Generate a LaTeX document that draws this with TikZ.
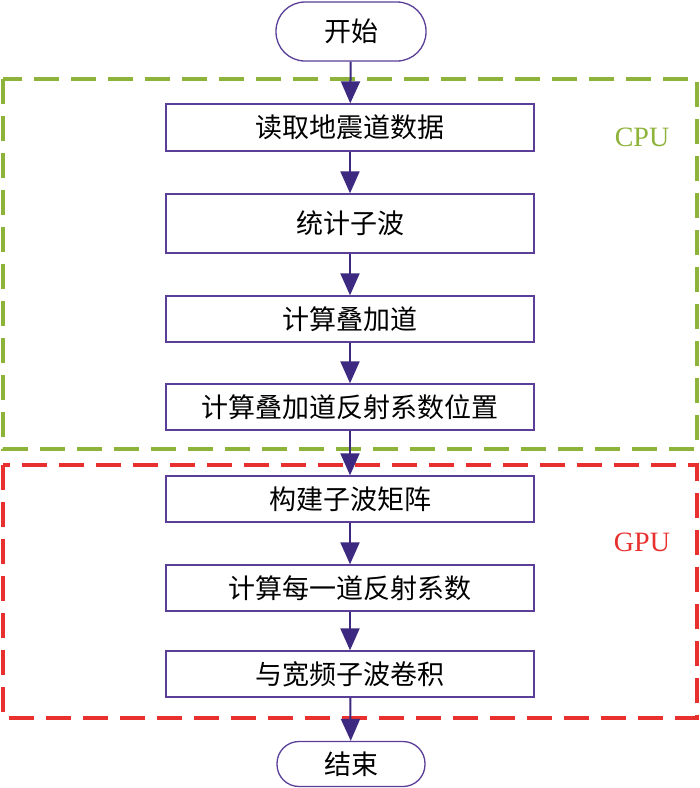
\documentclass[tikz,border=0pt]{standalone}
\usepackage{fontspec}
\setmainfont{Liberation Serif}
\newfontfamily\cjk{Noto Sans CJK SC}
\usetikzlibrary{arrows.meta}
\definecolor{arrowc}{HTML}{3D2A80}
\definecolor{boxc}{HTML}{5A3E98}
\definecolor{cpuc}{HTML}{8DB33A}
\definecolor{gpuc}{HTML}{E8312F}
\begin{document}
\begin{tikzpicture}[x=1pt,y=-1pt,
  stepbox/.style={draw=boxc,line width=1.3pt,minimum width=368pt,inner sep=0pt,font=\cjk\fontsize{27}{27}\selectfont},
  termbox/.style={draw=boxc,line width=1.3pt,minimum width=150pt,inner sep=0pt,font=\cjk\fontsize{27}{27}\selectfont},
  flow/.style={draw=arrowc,line width=2pt,-{Triangle[length=22pt,width=19pt]}},
  region/.style={line width=3.2pt,dash pattern=on 25pt off 12pt},
  lbl/.style={font=\fontsize{28}{28}\selectfont}]
\useasboundingbox (0,0) rectangle (700,788);
\fill[white] (0,0) rectangle (700,788);
% regions
\draw[region,draw=cpuc] (3,79) rectangle (697,449);
\draw[region,draw=gpuc] (3,465) rectangle (697,718);
\node[lbl,text=cpuc] (cpu) at (642,137) {CPU};
\node[lbl,text=gpuc] (gpu) at (642,542) {GPU};
% nodes
\node[termbox,minimum width=150pt,minimum height=59pt,rounded corners=29pt] (start) at (351,31.5) {开始};
\node[stepbox,minimum height=47pt] (b1) at (350,127.5) {读取地震道数据};
\node[stepbox,minimum height=59pt] (b2) at (350,223.5) {统计子波};
\node[stepbox,minimum height=46pt] (b3) at (350,319) {计算叠加道};
\node[stepbox,minimum height=46pt] (b4) at (350,407) {计算叠加道反射系数位置};
\node[stepbox,minimum height=46pt] (b5) at (350,499) {构建子波矩阵};
\node[stepbox,minimum height=46pt] (b6) at (350,588) {计算每一道反射系数};
\node[stepbox,minimum height=46pt] (b7) at (350,674) {与宽频子波卷积};
\node[termbox,minimum width=148pt,minimum height=45pt,rounded corners=22pt] (end) at (351,764) {结束};
% connectors
\draw[flow] (start) -- (b1);
\draw[flow] (b1) -- (b2);
\draw[flow] (b2) -- (b3);
\draw[flow] (b3) -- (b4);
\draw[flow] (b4) -- (b5);
\draw[flow] (b5) -- (b6);
\draw[flow] (b6) -- (b7);
\draw[flow] (b7) -- (end);
\end{tikzpicture}
\end{document}
